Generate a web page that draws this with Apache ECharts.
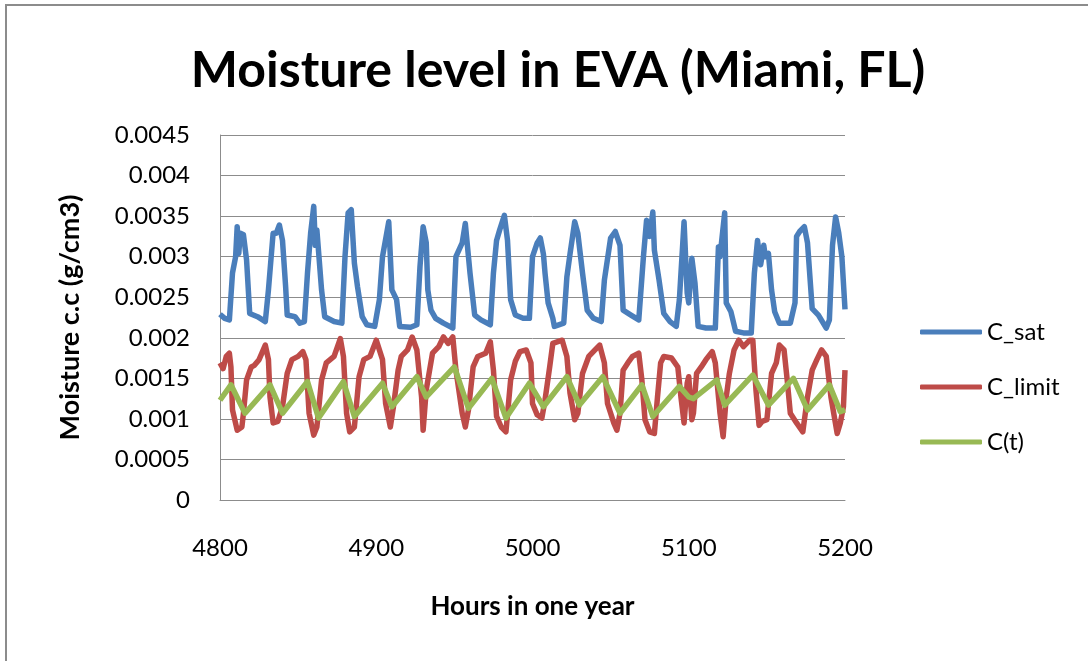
<!DOCTYPE html>
<html>
<head>
<meta charset="utf-8">
<title>Moisture level in EVA (Miami, FL)</title>
<script src="https://cdn.jsdelivr.net/npm/echarts@6/dist/echarts.min.js"></script>
<style>
  html, body { margin: 0; padding: 0; background: #fff; }
  #moistureChart { width: 1088px; height: 661px; }
</style>
</head>
<body>
<div id="moistureChart"></div>
<script>
// hours in one year at the turning points of each curve
const cSat = [
  [4800,0.00229],[4803,0.00224],[4806,0.00222],[4808,0.0028],[4810,0.0030],[4811,0.00337],[4812,0.00304],[4813,0.00329],
  [4815,0.00327],[4817,0.00296],[4819,0.0023],[4824,0.00226],[4829,0.0022],[4831,0.00259],[4834,0.00329],[4836,0.00329],
  [4838,0.00339],[4840,0.0032],[4842,0.00263],[4843,0.00228],[4848,0.00226],[4851,0.00218],[4854,0.0022],[4856,0.0028],
  [4858,0.00329],[4860,0.00362],[4861,0.00314],[4862,0.00333],[4865,0.00259],[4867,0.00226],[4873,0.0022],[4878,0.00218],
  [4880,0.0030],[4882,0.00354],[4884,0.00358],[4886,0.00292],[4888,0.00263],[4891,0.00226],[4894,0.00216],[4899,0.00214],
  [4902,0.00247],[4904,0.0030],[4908,0.00343],[4910,0.00259],[4913,0.00247],[4915,0.00214],[4922,0.00213],[4926,0.00216],
  [4928,0.00288],[4930,0.00337],[4931,0.00337],[4932,0.00317],[4933,0.00259],[4935,0.00234],[4938,0.00224],[4943,0.00218],
  [4949,0.00212],[4951,0.0030],[4955,0.00317],[4957,0.00341],[4960,0.0028],[4963,0.00228],[4967,0.00222],[4973,0.00216],
  [4975,0.0028],[4977,0.0032],[4979,0.00333],[4982,0.00351],[4984,0.0032],[4986,0.00247],[4989,0.00228],[4994,0.00224],
  [4998,0.00224],[5000,0.0030],[5003,0.00317],[5005,0.00323],[5007,0.00303],[5008,0.0028],[5010,0.00243],[5013,0.00224],
  [5014,0.00214],[5020,0.00218],[5022,0.00275],[5024,0.00303],[5027,0.00343],[5029,0.00329],[5032,0.0028],[5035,0.00234],
  [5039,0.00224],[5044,0.0022],[5046,0.00271],[5050,0.00323],[5053,0.00331],[5056,0.00314],[5058,0.00234],[5063,0.00228],
  [5068,0.00222],[5071,0.0030],[5073,0.00345],[5075,0.00325],[5077,0.00355],[5078,0.00308],[5081,0.00271],[5084,0.0023],
  [5088,0.0022],[5092,0.00214],[5094,0.00247],[5097,0.00343],[5099,0.00255],[5100,0.00243],[5102,0.00298],[5104,0.00267],
  [5106,0.00214],[5111,0.00212],[5117,0.00212],[5119,0.00312],[5120,0.0030],[5123,0.00354],[5124,0.00243],[5127,0.00232],
  [5130,0.00208],[5135,0.00206],[5140,0.00206],[5142,0.0028],[5144,0.0032],[5146,0.0029],[5148,0.00314],[5149,0.0030],
  [5151,0.00304],[5153,0.00259],[5155,0.00232],[5158,0.00218],[5165,0.00218],[5168,0.00243],[5169,0.00325],[5171,0.00331],
  [5174,0.00337],[5176,0.00317],[5179,0.00236],[5183,0.00228],[5188,0.00212],[5190,0.00222],[5192,0.00314],[5194,0.00349],
  [5196,0.00329],[5198,0.0030],[5200,0.00235]
];

const cLimit = [
  [4800,0.00169],[4802,0.00162],[4804,0.00177],[4806,0.00181],[4807,0.00164],[4808,0.00111],[4811,0.00086],[4814,0.0009],
  [4815,0.00107],[4817,0.00148],[4820,0.00164],[4822,0.00166],[4825,0.00173],[4829,0.00191],[4831,0.00173],[4832,0.00127],
  [4834,0.00095],[4837,0.00097],[4840,0.00115],[4843,0.00156],[4846,0.00173],[4850,0.00177],[4853,0.00183],[4855,0.00173],
  [4857,0.00107],[4860,0.0008],[4862,0.0009],[4865,0.00148],[4868,0.00169],[4873,0.00177],[4877,0.00199],[4879,0.00177],
  [4881,0.00107],[4883,0.00084],[4886,0.0009],[4889,0.00152],[4892,0.00173],[4896,0.00177],[4900,0.00197],[4904,0.00173],
  [4906,0.00119],[4909,0.0009],[4911,0.00115],[4914,0.0016],[4916,0.00177],[4920,0.00185],[4923,0.00201],[4926,0.00185],
  [4929,0.00127],[4930,0.00086],[4932,0.00136],[4936,0.00181],[4940,0.00189],[4943,0.00201],[4946,0.00193],[4949,0.00201],
  [4951,0.0016],[4955,0.00107],[4957,0.0009],[4959,0.00111],[4962,0.00164],[4965,0.00177],[4970,0.00181],[4973,0.00195],
  [4975,0.0016],[4977,0.00103],[4980,0.0009],[4983,0.00084],[4986,0.00148],[4989,0.00171],[4992,0.00183],[4996,0.00185],
  [4999,0.00169],[5000,0.00119],[5003,0.00105],[5006,0.00101],[5008,0.00123],[5011,0.00164],[5013,0.00193],[5019,0.00197],
  [5022,0.00177],[5024,0.00132],[5027,0.00099],[5029,0.00107],[5032,0.00156],[5036,0.00177],[5040,0.00185],[5043,0.00191],
  [5046,0.00169],[5048,0.00119],[5052,0.00095],[5054,0.00086],[5056,0.00107],[5058,0.0016],[5061,0.00169],[5064,0.00177],
  [5068,0.00181],[5070,0.00148],[5072,0.00099],[5075,0.00084],[5078,0.00082],[5080,0.00127],[5082,0.00169],[5084,0.00177],
  [5089,0.00175],[5093,0.00164],[5095,0.00127],[5097,0.00095],[5099,0.00144],[5100,0.00152],[5102,0.00099],[5103,0.00107],
  [5105,0.00156],[5108,0.00164],[5111,0.00173],[5115,0.00183],[5117,0.00169],[5120,0.00107],[5122,0.00078],[5124,0.00127],
  [5126,0.00156],[5129,0.00185],[5132,0.00197],[5135,0.00189],[5139,0.00197],[5141,0.00197],[5143,0.00136],[5145,0.00092],
  [5147,0.00097],[5150,0.00099],[5153,0.00156],[5156,0.00169],[5158,0.00191],[5161,0.00185],[5163,0.00148],[5165,0.00107],
  [5169,0.00095],[5173,0.00084],[5176,0.00127],[5179,0.0016],[5182,0.00173],[5185,0.00185],[5188,0.00177],[5191,0.00127],
  [5195,0.00082],[5197,0.00095],[5199,0.00115],[5200,0.0016]
];

const cT = [
  [4800,0.00123],[4807,0.00142],[4816,0.00107],[4832,0.00142],[4840,0.00107],[4856,0.00146],[4863,0.00101],[4879,0.00146],
  [4886,0.00103],[4904,0.00144],[4910,0.00115],[4926,0.00152],[4932,0.00127],[4950,0.00164],[4959,0.00113],[4974,0.0015],
  [4983,0.00101],[4998,0.00144],[5007,0.00115],[5022,0.00152],[5030,0.00117],[5045,0.00152],[5056,0.00107],[5070,0.00142],
  [5077,0.00103],[5094,0.0014],[5100,0.00127],[5103,0.00125],[5118,0.00148],[5123,0.00117],[5141,0.00154],[5151,0.00117],
  [5167,0.0015],[5176,0.00111],[5190,0.00142],[5197,0.00109],[5200,0.00111]
];

const seriesNames = ['C_sat', 'C_limit', 'C(t)'];
const yTickLabels = ['0', '0.0005', '0.001', '0.0015', '0.002', '0.0025', '0.003', '0.0035', '0.004', '0.0045'];

const font = 'Lato, "Open Sans", sans-serif';
const colors = ['#4a7ebb', '#be4b48', '#98b954'];

const options = {
  animation: false,
  backgroundColor: '#fff',
  color: colors,
  title: {
    text: 'Moisture level in EVA (Miami, FL)',
    left: 553,
    textAlign: 'center',
    top: 41,
    textStyle: { fontFamily: font, fontSize: 50, fontWeight: 'bold', color: '#000' }
  },
  legend: {
    data: seriesNames,
    orient: 'vertical',
    left: 915,
    top: 314,
    icon: 'roundRect',
    itemWidth: 62,
    itemHeight: 5,
    itemGap: 29,
    textStyle: { fontFamily: font, fontSize: 24, color: '#000', lineHeight: 26 }
  },
  grid: { left: 220, right: 243, top: 135, bottom: 161 },
  xAxis: {
    type: 'value',
    min: 4800,
    max: 5200,
    interval: 100,
    name: 'Hours in one year',
    nameLocation: 'middle',
    nameGap: 94,
    nameTextStyle: { fontFamily: font, fontSize: 26, fontWeight: 'bold', color: '#000' },
    axisLine: { lineStyle: { color: '#8c8c8c', width: 1 } },
    axisTick: { show: false },
    splitLine: { show: false },
    axisLabel: {
      fontFamily: font,
      fontSize: 24,
      color: '#000',
      margin: 36,
      formatter: function (v) { return String(v); }
    }
  },
  yAxis: {
    type: 'value',
    min: 0,
    max: 0.0045,
    interval: 0.0005,
    name: 'Moisture c.c (g/cm3)',
    nameLocation: 'middle',
    nameGap: 136,
    nameTextStyle: { fontFamily: font, fontSize: 27, fontWeight: 'bold', color: '#000' },
    axisLine: { show: true, lineStyle: { color: '#8c8c8c', width: 1 } },
    axisTick: { show: false },
    splitLine: { lineStyle: { color: '#8c8c8c', width: 1 } },
    axisLabel: {
      fontFamily: font,
      fontSize: 24,
      color: '#000',
      margin: 30,
      formatter: function (v) { return yTickLabels[Math.round(v / 0.0005)]; }
    }
  },
  graphic: [
    {
      type: 'rect',
      silent: true,
      shape: { x: 6, y: 5, width: 1200, height: 700 },
      style: { fill: 'none', stroke: '#8c8c8c', lineWidth: 2 }
    }
  ],
  series: [
    { name: seriesNames[0], type: 'line', symbol: 'none', data: cSat, lineStyle: { width: 5.5, join: 'round' } },
    { name: seriesNames[1], type: 'line', symbol: 'none', data: cLimit, lineStyle: { width: 5.5, join: 'round' } },
    { name: seriesNames[2], type: 'line', symbol: 'none', data: cT, lineStyle: { width: 5.5, join: 'round' } }
  ]
};

const moistureChart = echarts.init(document.getElementById('moistureChart'));
moistureChart.setOption(options);
window.addEventListener('resize', function () {
  moistureChart.resize();
});
</script>
</body>
</html>
